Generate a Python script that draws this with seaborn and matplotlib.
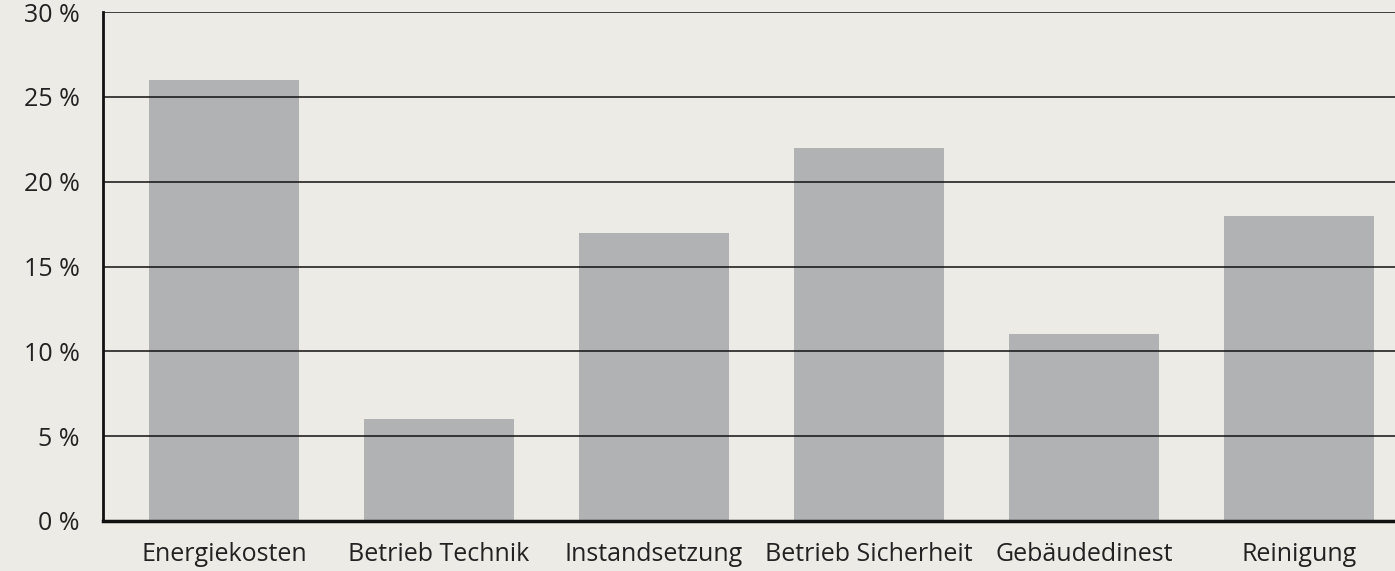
import numpy as np
import pandas as pd
import matplotlib
matplotlib.use("Agg")
import matplotlib.pyplot as plt
import seaborn as sns

# Data
categories = ["Energiekosten", "Betrieb Technik", "Instandsetzung",
              "Betrieb Sicherheit", "Gebäudedinest", "Reinigung"]
shares = [26, 6, 17, 22, 11, 18]
y_ticks = [0, 5, 10, 15, 20, 25, 30]
y_labels = [f"{t} %" for t in y_ticks]

bg = "#edebe6"
bar_color = "#b1b2b4"

sns.set_theme(style="white")
plt.rcParams["font.family"] = ["Open Sans", "DejaVu Sans"]

df = pd.DataFrame({"Kategorie": categories, "Anteil": shares})

fig = plt.figure(figsize=(13.95, 5.71), dpi=100, facecolor=bg)
ax = fig.add_axes([103 / 1395, 50 / 571, 1292 / 1395, 509 / 571])
ax.set_facecolor(bg)

sns.barplot(data=df, x="Kategorie", y="Anteil", color=bar_color,
            width=0.7, saturation=1, linewidth=0, ax=ax, zorder=1)

# Horizontal grid lines
for t in y_ticks[1:]:
    ax.axhline(t, color="#111111", lw=1.1, zorder=2)

ax.set_ylim(0, 30)
ax.set_xlim(-0.563, 5.447)
ax.set_yticks(y_ticks)
ax.set_yticklabels(y_labels)
ax.set_xlabel("")
ax.set_ylabel("")
ax.tick_params(axis="both", length=0, labelsize=18, colors="#222222")
ax.tick_params(axis="y", pad=17)
ax.tick_params(axis="x", pad=15)

for side in ["top", "right"]:
    ax.spines[side].set_visible(False)
ax.spines["left"].set_color("#111111")
ax.spines["left"].set_linewidth(2)
ax.spines["bottom"].set_color("#111111")
ax.spines["bottom"].set_linewidth(2.5)
ax.spines["left"].set_zorder(3)
ax.spines["bottom"].set_zorder(3)

fig.savefig("out.png", dpi=100, facecolor=bg)
